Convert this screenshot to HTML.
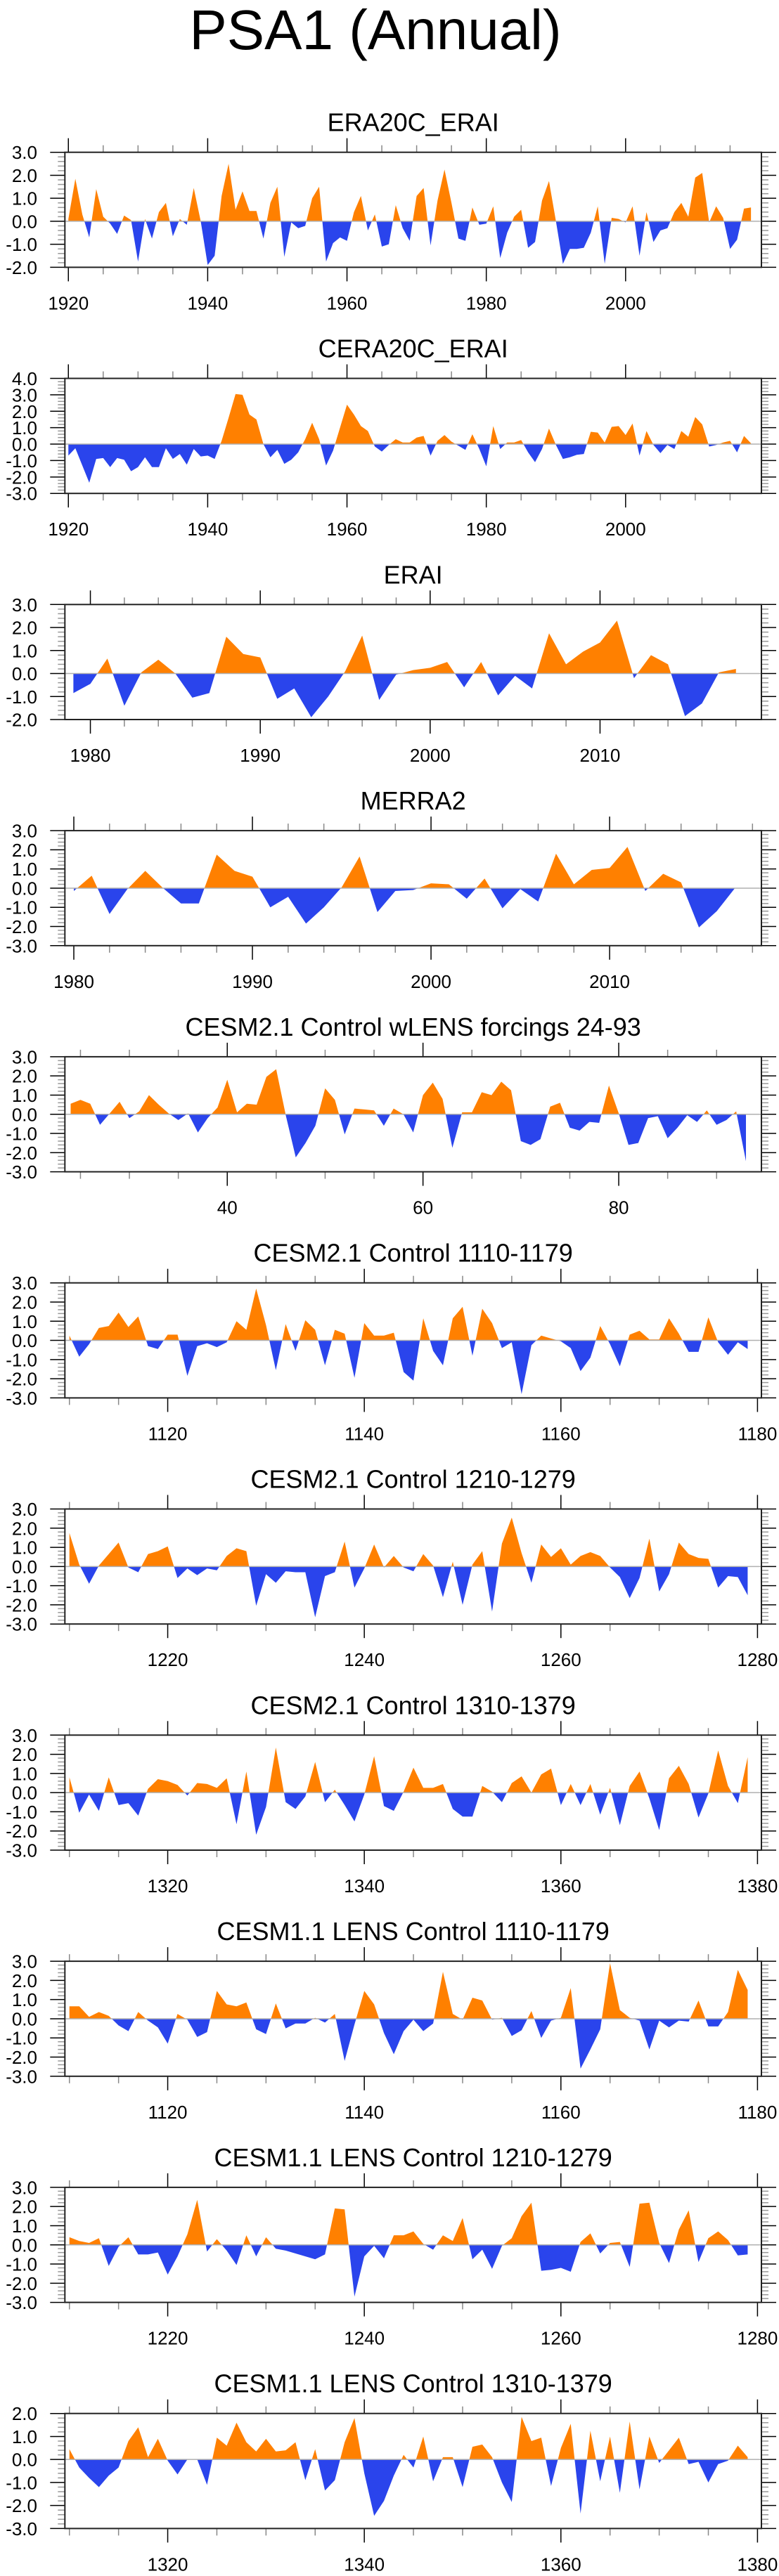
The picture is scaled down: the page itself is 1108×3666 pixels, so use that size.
<!DOCTYPE html>
<html>
<head>
<meta charset="utf-8">
<style>
  html, body { margin: 0; padding: 0; background: #ffffff; }
  svg { display: block; font-family: "Liberation Sans", Arial, sans-serif; }
</style>
</head>
<body>
<svg id="chart" width="1108" height="3666" viewBox="0 0 1108 3666" xmlns="http://www.w3.org/2000/svg">
  <rect x="0" y="0" width="1108" height="3666" fill="#ffffff"/>
  <text x="534" y="70" font-size="80" text-anchor="middle" fill="#000">PSA1 (Annual)</text>
</svg>
<script>
// ---- data ----
const panelTitles = ["ERA20C_ERAI","CERA20C_ERAI","ERAI","MERRA2","CESM2.1 Control wLENS forcings 24-93","CESM2.1 Control 1110-1179","CESM2.1 Control 1210-1279","CESM2.1 Control 1310-1379","CESM1.1 LENS Control 1110-1179","CESM1.1 LENS Control 1210-1279","CESM1.1 LENS Control 1310-1379"];
const startYears = [1920,1920,1979,1980,24,1110,1210,1310,1110,1210,1310];
const xMins = [1919.5,1919.5,1978.5,1979.5,23.41,1109.54,1209.54,1309.54,1109.54,1209.54,1309.54];
const xMaxs = [2019.5,2019.5,2019.5,2018.5,94.58,1180.4,1280.4,1380.4,1180.4,1280.4,1380.4];
const yMins = [-2,-3,-2,-3,-3,-3,-3,-3,-3,-3,-3];
const yMaxs = [3,4,3,3,3,3,3,3,3,3,2];
const xMajorSteps = [20,20,10,10,20,20,20,20,20,20,20];
const xMinorSteps = [5,5,2,2,5,5,5,5,5,5,5];
const xTickLabels = [
  [1920,1940,1960,1980,2000],[1920,1940,1960,1980,2000],
  [1980,1990,2000,2010],[1980,1990,2000,2010],
  [40,60,80],[1120,1140,1160,1180],[1220,1240,1260,1280],[1320,1340,1360,1380],
  [1120,1140,1160,1180],[1220,1240,1260,1280],[1320,1340,1360,1380]
];

const era20cValues = [0.1,1.85,0.3,-0.7,1.4,0.2,-0.1,-0.55,0.25,0.05,-1.75,0.1,-0.75,0.4,0.8,-0.65,0.1,-0.15,1.45,0.0,-1.9,-1.5,1.1,2.5,0.5,1.3,0.45,0.45,-0.75,0.8,1.5,-1.55,-0.05,-0.3,-0.2,1.0,1.5,-1.75,-0.95,-0.7,-0.85,0.4,1.1,-0.4,0.3,-1.1,-1.0,0.7,-0.3,-0.85,1.1,1.45,-1.05,0.9,2.25,0.8,-0.75,-0.85,0.6,-0.15,-0.1,0.65,-1.6,-0.5,0.2,0.5,-1.15,-0.9,0.9,1.75,0.0,-1.85,-1.2,-1.2,-1.15,-0.5,0.65,-1.85,0.15,0.1,-0.05,0.65,-1.5,0.4,-0.9,-0.4,-0.3,0.4,0.8,0.2,1.9,2.1,-0.05,0.65,0.15,-1.2,-0.8,0.55,0.6];
const cera20cValues = [-0.7,-0.25,-1.3,-2.35,-0.9,-0.85,-1.4,-0.85,-0.95,-1.65,-1.4,-0.8,-1.4,-1.4,-0.25,-0.9,-0.6,-1.25,-0.3,-0.75,-0.7,-0.9,0.2,1.6,3.05,3.0,1.8,1.5,0.0,-0.8,-0.35,-1.2,-0.95,-0.5,0.3,1.3,0.3,-1.3,-0.4,1.0,2.4,1.8,1.1,0.8,-0.15,-0.45,-0.05,0.3,0.1,0.1,0.4,0.5,-0.7,0.2,0.55,0.15,-0.1,-0.35,0.6,-0.3,-1.35,1.1,-0.3,0.1,0.1,0.25,-0.5,-1.1,-0.3,0.95,-0.05,-0.9,-0.8,-0.65,-0.6,0.75,0.7,0.1,1.05,1.1,0.55,1.25,-0.7,0.8,-0.05,-0.55,-0.05,-0.3,0.8,0.45,1.65,1.2,-0.15,-0.05,0.1,0.2,-0.5,0.5,0.05];
const eraiValues = [-0.85,-0.45,0.65,-1.4,0.05,0.6,0.0,-1.05,-0.85,1.6,0.85,0.7,-1.1,-0.65,-1.9,-1.0,0.1,1.65,-1.15,-0.05,0.15,0.25,0.5,-0.6,0.5,-0.95,-0.1,-0.65,1.75,0.4,0.95,1.35,2.3,-0.2,0.8,0.4,-1.85,-1.3,0.05,0.2];
const merra2Values = [-0.15,0.65,-1.35,-0.05,0.9,0.0,-0.8,-0.8,1.75,0.9,0.6,-1.0,-0.45,-1.85,-1.0,0.05,1.65,-1.25,-0.15,-0.1,0.25,0.2,-0.55,0.5,-1.05,-0.05,-0.7,1.8,0.2,0.95,1.05,2.15,-0.15,0.75,0.3,-2.05,-1.2,-0.02];
const cesm21LensForcingValues = [0.55,0.75,0.55,-0.55,0.05,0.65,-0.2,0.15,1.0,0.5,0.05,-0.3,0.05,-0.95,-0.2,0.35,1.8,0.1,0.55,0.5,1.95,2.35,-0.1,-2.25,-1.5,-0.6,1.35,0.75,-1.05,0.3,0.25,0.2,-0.6,0.3,0.0,-0.95,1.0,1.65,0.8,-1.75,0.1,0.1,1.15,1.0,1.7,1.25,-1.4,-1.6,-1.3,0.4,0.6,-0.7,-0.85,-0.4,-0.45,1.5,0.05,-1.6,-1.5,-0.2,-0.1,-1.25,-0.7,-0.05,-0.4,0.2,-0.55,-0.3,0.15,-2.45];
const cesm21Ctl1110Values = [0.25,-0.85,-0.2,0.65,0.75,1.45,0.7,1.25,-0.3,-0.45,0.3,0.3,-1.85,-0.3,-0.15,-0.35,-0.1,1.0,0.55,2.7,0.8,-1.55,0.85,-0.55,1.05,0.55,-1.3,0.55,0.35,-1.95,0.9,0.25,0.25,0.4,-1.65,-2.1,1.15,-0.55,-1.3,1.15,1.75,-0.8,1.65,0.9,-0.4,-0.1,-2.8,-0.25,0.25,0.1,-0.05,-0.4,-1.6,-0.9,0.75,-0.2,-1.35,0.3,0.5,0.05,0.05,1.15,0.35,-0.6,-0.6,1.2,-0.1,-0.75,-0.1,-0.45];
const cesm21Ctl1210Values = [1.75,0.1,-0.9,0.05,0.65,1.25,-0.05,-0.3,0.65,0.8,1.05,-0.6,-0.1,-0.45,-0.1,-0.2,0.55,0.95,0.8,-2.05,-0.4,-0.85,-0.25,-0.3,-0.3,-2.65,-0.5,-0.3,1.3,-1.1,-0.1,1.15,-0.05,0.55,-0.05,-0.25,0.65,0.05,-1.6,0.25,-2.0,0.1,0.8,-2.35,1.2,2.55,0.7,-0.85,1.15,0.5,0.95,0.1,0.55,0.75,0.55,-0.05,-0.55,-1.65,-0.6,1.45,-1.3,-0.4,1.25,0.65,0.45,0.4,-1.1,-0.5,-0.55,-1.5];
const cesm21Ctl1310Values = [0.8,-1.05,-0.1,-0.95,0.8,-0.65,-0.55,-1.2,0.2,0.7,0.6,0.4,-0.15,0.5,0.45,0.25,0.75,-1.65,1.1,-2.2,-0.75,2.35,-0.5,-0.85,-0.2,1.6,-0.5,0.15,-0.65,-1.5,-0.1,1.9,-0.7,-0.95,0.05,1.3,0.25,0.25,0.45,-0.85,-1.25,-1.25,0.35,0.05,-0.5,0.5,0.85,0.0,0.95,1.25,-0.65,0.45,-0.65,0.45,-1.15,0.25,-1.7,0.35,1.1,-0.3,-1.95,0.75,1.4,0.45,-1.3,-0.05,2.2,0.35,-0.55,1.85];
const lensCtl1110Values = [0.65,0.65,0.1,0.35,0.15,-0.35,-0.65,0.35,-0.1,-0.45,-1.3,0.25,-0.05,-0.95,-0.7,1.45,0.75,0.65,0.85,-0.55,-0.8,0.8,-0.5,-0.25,-0.25,0.05,-0.2,0.25,-2.2,-0.3,1.45,0.75,-0.75,-1.85,-0.65,-0.05,-0.65,-0.25,2.45,0.25,-0.05,1.1,0.95,-0.05,0.05,-0.9,-0.6,0.4,-1.0,-0.1,0.05,1.6,-2.6,-1.6,-0.55,2.9,0.45,0.05,-0.1,-1.6,-0.1,-0.45,-0.1,-0.15,0.95,-0.4,-0.4,0.35,2.55,1.5];
const lensCtl1210Values = [0.4,0.2,0.1,0.35,-1.1,-0.1,0.4,-0.5,-0.5,-0.4,-1.55,-0.6,0.55,2.35,-0.35,0.3,-0.3,-1.05,0.5,-0.6,0.4,-0.2,-0.3,-0.45,-0.6,-0.75,-0.5,1.9,1.85,-2.7,-0.6,-0.05,-0.7,0.5,0.5,0.7,0.05,-0.25,0.5,0.2,1.4,-0.75,-0.25,-1.25,-0.05,0.35,1.5,2.2,-1.35,-1.3,-1.2,-1.4,0.15,0.6,-0.45,0.1,0.15,-1.15,2.15,2.2,0.1,-0.95,0.8,1.8,-0.9,0.35,0.7,0.25,-0.55,-0.5];
const lensCtl1310Values = [0.45,-0.35,-0.8,-1.2,-0.7,-0.35,0.8,1.4,0.1,0.9,-0.05,-0.65,0.0,0.0,-1.1,0.95,0.6,1.6,0.75,0.35,0.9,0.35,0.4,0.75,-0.9,0.45,-1.35,-0.9,0.75,1.8,-0.6,-2.45,-1.8,-0.7,0.2,-0.35,1.0,-0.95,0.1,0.1,-1.2,0.55,0.65,0.1,-1.0,-1.85,1.85,0.8,0.95,-1.15,0.5,1.55,-2.35,1.25,-0.95,1.0,-1.45,1.65,-1.3,1.0,-0.15,0.4,0.95,-0.2,-0.1,-1.0,-0.2,-0.05,0.6,0.1];

const seriesValues = [era20cValues,cera20cValues,eraiValues,merra2Values,cesm21LensForcingValues,cesm21Ctl1110Values,cesm21Ctl1210Values,cesm21Ctl1310Values,lensCtl1110Values,lensCtl1210Values,lensCtl1310Values];
const panelNames = ["era20c-erai","cera20c-erai","erai","merra2","cesm21-lens-forcings","cesm21-control-1110","cesm21-control-1210","cesm21-control-1310","cesm11-lens-control-1110","cesm11-lens-control-1210","cesm11-lens-control-1310"];

// ---- drawing ----
const NS = "http://www.w3.org/2000/svg";
const svg = document.getElementById("chart");
const L = 92.3, R = 1083, H = 163.7;
const POS = "#ff8000", NEG = "#2a44ec";

function mk(tag, attrs, parent) {
  const e = document.createElementNS(NS, tag);
  for (const k in attrs) e.setAttribute(k, attrs[k]);
  (parent || svg).appendChild(e);
  return e;
}

for (let p = 0; p < panelTitles.length; p++) {
  const T = 216.7 + 321.8 * p;
  const xmin = xMins[p], xmax = xMaxs[p], ymin = yMins[p], ymax = yMaxs[p];
  const sx = v => L + (v - xmin) / (xmax - xmin) * (R - L);
  const sy = v => T + (ymax - v) / (ymax - ymin) * H;
  const nm = panelNames[p];

  const g = mk("g", {});
  
  

  const title = mk("text", {x: (L + R) / 2, y: T - 30, "font-size": 36, "text-anchor": "middle", fill: "#000"}, g);
  title.textContent = panelTitles[p];
  
  

  // area path
  const vals = seriesValues[p];
  const y0 = sy(0);
  let d = "M" + sx(startYears[p]).toFixed(2) + "," + y0.toFixed(2);
  for (let i = 0; i < vals.length; i++) {
    d += " L" + sx(startYears[p] + i).toFixed(2) + "," + sy(vals[i]).toFixed(2);
  }
  d += " L" + sx(startYears[p] + vals.length - 1).toFixed(2) + "," + y0.toFixed(2) + " Z";

  const defs = mk("defs", {}, g);
  const cpPos = mk("clipPath", {id: "cpos" + p}, defs);
  mk("rect", {x: L, y: T, width: R - L, height: y0 - T}, cpPos);
  const cpNeg = mk("clipPath", {id: "cneg" + p}, defs);
  mk("rect", {x: L, y: y0, width: R - L, height: T + H - y0}, cpNeg);

  const pos = mk("path", {d: d, fill: POS, "clip-path": "url(#cpos" + p + ")"}, g);
  
  
  const neg = mk("path", {d: d, fill: NEG, "clip-path": "url(#cneg" + p + ")"}, g);
  
  

  const zl = mk("line", {x1: L, x2: R, y1: y0, y2: y0, stroke: "#b0b0b0", "stroke-width": 1.5}, g);
  
  

  // x ticks
  const mn = xMinorSteps[p], mj = xMajorSteps[p];
  for (let v = Math.ceil(xmin / mn) * mn; v <= xmax; v += mn) {
    const x = sx(v);
    const major = (Math.round(v) % mj) === 0;
    const len = major ? 20 : 10;
    const col = major ? "#000" : "#888";
    mk("line", {x1: x, x2: x, y1: T, y2: T - len, stroke: col, "stroke-width": 1.5}, g);
    mk("line", {x1: x, x2: x, y1: T + H, y2: T + H + len, stroke: col, "stroke-width": 1.5}, g);
  }
  // y ticks
  for (let k = Math.round(ymin * 5); k <= Math.round(ymax * 5); k++) {
    const v = k / 5, y = sy(v);
    const major = k % 5 === 0;
    const len = major ? 21 : 10;
    const col = major ? "#000" : "#999";
    mk("line", {x1: L - len, x2: L, y1: y, y2: y, stroke: col, "stroke-width": 1.5}, g);
    mk("line", {x1: R, x2: R + len, y1: y, y2: y, stroke: col, "stroke-width": 1.5}, g);
    if (major) {
      const t = mk("text", {x: 53, y: y + 9.5, "font-size": 26, "text-anchor": "end", fill: "#000"}, g);
      t.textContent = v.toFixed(1);
      
      
    }
  }
  // x labels
  for (const lv of xTickLabels[p]) {
    const t = mk("text", {x: sx(lv), y: T + H + 60, "font-size": 26, "text-anchor": "middle", fill: "#000"}, g);
    t.textContent = String(lv);
    
    
  }
  // frame
  const fr = mk("rect", {x: L, y: T, width: R - L, height: H, fill: "none", stroke: "#222", "stroke-width": 2}, g);
  
  
}
</script>
</body>
</html>
